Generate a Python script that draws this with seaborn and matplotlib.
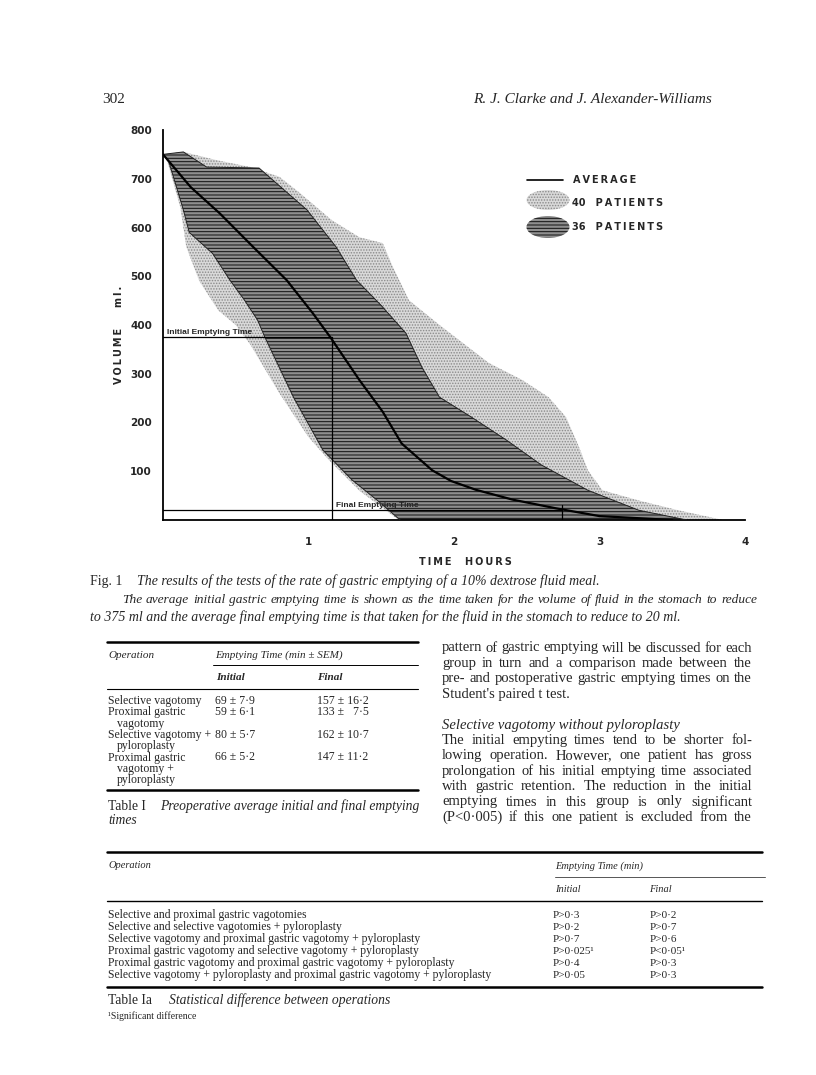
import numpy as np
import matplotlib
matplotlib.use('Agg')
import matplotlib.pyplot as plt
import seaborn as sns
from matplotlib.lines import Line2D
from matplotlib.patches import Ellipse

# ---- data (time in hours, volume in ml) ----
avg_t = [0, 0.19, 0.39, 0.62, 0.85, 1.03, 1.15, 1.35, 1.51, 1.64, 1.85, 1.98, 2.15, 2.4, 2.7, 3.0, 3.5]
avg_v = [750, 683, 629, 560, 492, 424, 375, 287, 222, 157, 102, 80, 62, 42, 24, 8, 0]

# 36 patients band (hatched)
hi36_t = [0, 0.14, 0.3, 0.66, 0.99, 1.19, 1.33, 1.5, 1.67, 1.78, 1.9, 2.12, 2.36, 2.6, 2.92, 3.27, 3.6]
hi36_v = [750, 755, 724, 722, 636, 560, 492, 440, 383, 313, 252, 211, 164, 113, 61, 20, 0]
lo36_t = [0, 0.04, 0.14, 0.18, 0.34, 0.46, 0.56, 0.65, 0.7, 0.9, 1.1, 1.3, 1.47, 1.63]
lo36_v = [750, 735, 636, 590, 547, 492, 451, 410, 375, 250, 143, 82, 41, 0]

# 40 patients band (stippled)
hi40_t = [0, 0.14, 0.37, 0.6, 0.8, 0.94, 1.16, 1.35, 1.51, 1.58, 1.69, 1.9, 2.24, 2.47, 2.65,
          2.77, 2.86, 2.92, 3.02, 3.27, 3.54, 3.85]
hi40_v = [750, 755, 738, 724, 704, 671, 615, 580, 568, 519, 451, 400, 322, 287, 252,
          211, 149, 102, 61, 40, 20, 0]
lo40_t = [0, 0.03, 0.12, 0.16, 0.25, 0.38, 0.5, 0.6, 0.8, 1.0, 1.14, 1.35, 1.62]
lo40_v = [750, 735, 640, 560, 490, 430, 400, 360, 260, 170, 123, 60, 0]

initial_time, initial_vol = 1.16, 375
final_time, final_vol = 2.74, 20

x_ticks = [1, 2, 3, 4]
y_ticks = [100, 200, 300, 400, 500, 600, 700, 800]

# ---- tables ----
t1_ops = ['Selective vagotomy', 'Proximal gastric', '  vagotomy', 'Selective vagotomy +',
          '  pyloroplasty', 'Proximal gastric', '  vagotomy +', '  pyloroplasty']
t1_initial = ['69 ± 7·9', '59 ± 6·1', '', '80 ± 5·7', '', '66 ± 5·2', '', '']
t1_final = ['157 ± 16·2', '133 ±   7·5', '', '162 ± 10·7', '', '147 ± 11·2', '', '']

t2_ops = ['Selective and proximal gastric vagotomies',
          'Selective and selective vagotomies + pyloroplasty',
          'Selective vagotomy and proximal gastric vagotomy + pyloroplasty',
          'Proximal gastric vagotomy and selective vagotomy + pyloroplasty',
          'Proximal gastric vagotomy and proximal gastric vagotomy + pyloroplasty',
          'Selective vagotomy + pyloroplasty and proximal gastric vagotomy + pyloroplasty']
t2_initial = ['P>0·3', 'P>0·2', 'P>0·7', 'P>0·025¹', 'P>0·4', 'P>0·05']
t2_final = ['P>0·2', 'P>0·7', 'P>0·6', 'P<0·05¹', 'P>0·3', 'P>0·3']

body_lines = [
    ('pattern of gastric emptying will be discussed for each', True, 'normal'),
    ('group in turn and a comparison made between the', True, 'normal'),
    ('pre- and postoperative gastric emptying times on the', True, 'normal'),
    ("Student's paired t test.", False, 'normal'),
    ('', False, 'normal'),
    ('Selective vagotomy without pyloroplasty', False, 'italic'),
    ('The initial empyting times tend to be shorter fol-', True, 'normal'),
    ('lowing operation. However, one patient has gross', True, 'normal'),
    ('prolongation of his initial emptying time associated', True, 'normal'),
    ('with gastric retention. The reduction in the initial', True, 'normal'),
    ('emptying times in this group is only significant', True, 'normal'),
    ('(P<0·005) if this one patient is excluded from the', True, 'normal'),
]

W, H = 816, 1075
sns.set_style('white')
plt.rcParams['font.family'] = ['DejaVu Sans']
plt.rcParams['hatch.linewidth'] = 0.7
SERIF = ['Liberation Serif', 'DejaVu Serif']
SANS = ['DejaVu Sans']

fig = plt.figure(figsize=(W / 100, H / 100), dpi=100)


def fx(x):
    return x / W


def fy(y):
    return 1 - y / H


def ftext(x, y, s, **kw):
    kw.setdefault('family', SERIF)
    kw.setdefault('va', 'center')
    return fig.text(fx(x), fy(y), s, **kw)


def hline(x0, x1, y, lw=0.8, color='black'):
    fig.add_artist(Line2D([fx(x0), fx(x1)], [fy(y), fy(y)], transform=fig.transFigure,
                          lw=lw, color=color))


renderer = fig.canvas.get_renderer()


def justified(x0, x1, y, line, size, style='normal'):
    words = line.split()
    texts = [ftext(0, y, w, fontsize=size, style=style) for w in words]
    widths = [t.get_window_extent(renderer).width for t in texts]
    gap = (x1 - x0 - sum(widths)) / max(len(words) - 1, 1)
    x = x0
    for t, w in zip(texts, widths):
        t.set_x(fx(x))
        x += w + gap


# ---- chart ----
ax = fig.add_axes([fx(163), fy(520), (745 - 163) / W, (520 - 130) / H])
ax.fill(np.concatenate([hi40_t, lo40_t[::-1]]), np.concatenate([hi40_v, lo40_v[::-1]]),
        facecolor='#d9d9d9', edgecolor='#8a8a8a', hatch='......', lw=0, zorder=1)
ax.fill(np.concatenate([hi36_t, lo36_t[::-1]]), np.concatenate([hi36_v, lo36_v[::-1]]),
        facecolor='#8f8f8f', edgecolor='#111111', hatch='-----', lw=0, zorder=2)
ax.plot(hi36_t, hi36_v, color='#222222', lw=0.7, zorder=3)
ax.plot(lo36_t, lo36_v, color='#222222', lw=0.7, zorder=3)
sns.lineplot(x=avg_t, y=avg_v, ax=ax, color='black', lw=1.6, zorder=5)

ax.plot([0, initial_time], [initial_vol, initial_vol], color='black', lw=0.9, zorder=6)
ax.plot([initial_time, initial_time], [0, initial_vol], color='black', lw=0.9, zorder=6)
ax.plot([0, final_time], [final_vol, final_vol], color='black', lw=0.9, zorder=6)
ax.plot([final_time, final_time], [0, final_vol + 10], color='black', lw=0.9, zorder=6)
ax.text(0.03, initial_vol + 2, 'Initial Emptying Time', family=['Liberation Sans'],
        weight='bold', fontsize=6, va='bottom', zorder=7)
ax.text(1.19, final_vol + 2, 'Final Emptying Time', family=['Liberation Sans'],
        weight='bold', fontsize=6, va='bottom', zorder=7)

ax.set_xlim(0, 4)
ax.set_ylim(0, 800)
ax.set_xticks(x_ticks)
ax.set_yticks(y_ticks)
ax.set_xticklabels([str(v) for v in x_ticks], fontsize=7.5, weight='bold')
ax.set_yticklabels([str(v) for v in y_ticks], fontsize=7.5, weight='bold')
ax.tick_params(axis='both', direction='out', length=3, width=1, color='black')
ax.tick_params(axis='x', pad=9)
ax.tick_params(axis='y', pad=5)
sns.despine(ax=ax)
for s in ['left', 'bottom']:
    ax.spines[s].set_linewidth(1.3)
    ax.spines[s].set_color('black')
ax.set_facecolor('none')

th = '\u2009'
ftext(119, 356, th.join('VOLUME'), family=SANS, weight='bold', fontsize=7, rotation=90, ha='center')
ftext(119, 296, th.join('ml.'), family=SANS, weight='bold', fontsize=7, rotation=90, ha='center')
ftext(465, 562, th.join('TIME') + '    ' + th.join('HOURS'), family=SANS, weight='bold',
      fontsize=7, ha='center')

# legend
hline(527, 563, 180, lw=1.2)
ftext(573, 180, th.join('AVERAGE'), family=SANS, weight='bold', fontsize=7)
fig.add_artist(Ellipse((fx(548), fy(200)), 43 / W, 20 / H, transform=fig.transFigure,
                       facecolor='#d9d9d9', edgecolor='#8a8a8a', hatch='......', lw=0))
ftext(572, 203, '40' + '   ' + th.join('PATIENTS'), family=SANS, weight='bold', fontsize=7)
fig.add_artist(Ellipse((fx(548), fy(227)), 43 / W, 22 / H, transform=fig.transFigure,
                       facecolor='#8f8f8f', edgecolor='#111111', hatch='-----', lw=0))
ftext(572, 227, '36' + '   ' + th.join('PATIENTS'), family=SANS, weight='bold', fontsize=7)

# ---- page header ----
ftext(102, 100, '302', fontsize=11)
ftext(712, 100, 'R. J. Clarke and J. Alexander-Williams', fontsize=11, style='italic', ha='right')

# ---- figure caption ----
ftext(90, 581, 'Fig. 1', fontsize=10)
ftext(137, 581, 'The results of the tests of the rate of gastric emptying of a 10% dextrose fluid meal.',
      fontsize=10, style='italic')
justified(122, 757, 600, 'The average initial gastric emptying time is shown as the time taken for the '
          'volume of fluid in the stomach to reduce', 9.6, 'italic')
ftext(90, 617, 'to 375 ml and the average final emptying time is that taken for the fluid in the '
      'stomach to reduce to 20 ml.', fontsize=10, style='italic')

# ---- Table I ----
hline(107, 418, 642, lw=1.8)
ftext(108, 655, 'Operation', fontsize=8, style='italic')
ftext(215, 655, 'Emptying Time (min ± SEM)', fontsize=8, style='italic')
hline(213, 418, 665, lw=0.7)
ftext(216, 677, 'Initial', fontsize=8, style='italic', weight='bold')
ftext(317, 677, 'Final', fontsize=8, style='italic', weight='bold')
hline(107, 418, 689, lw=0.8)
for i, (op, a, b) in enumerate(zip(t1_ops, t1_initial, t1_final)):
    y = 701 + 11.3 * i
    ftext(108 + (9 if op.startswith('  ') else 0), y, op.strip(), fontsize=8.5)
    ftext(215, y, a, fontsize=8.5)
    ftext(317, y, b, fontsize=8.5)
hline(107, 418, 790, lw=1.8)
ftext(108, 806, 'Table I', fontsize=9.8)
ftext(160, 806, 'Preoperative average initial and final emptying', fontsize=9.8, style='italic')
ftext(108, 821, 'times', fontsize=9.8, style='italic')

# ---- body text ----
for i, (line, just, style) in enumerate(body_lines):
    y = 648 + 15.4 * i
    if not line:
        continue
    if just:
        justified(442, 752, y, line, 10.5, style)
    else:
        ftext(442, y, line, fontsize=10.5, style=style)

# ---- Table Ia ----
hline(107, 762, 852, lw=1.8)
ftext(108, 866, 'Operation', fontsize=7.5, style='italic')
ftext(555, 866, 'Emptying Time (min)', fontsize=7.5, style='italic')
hline(555, 765, 877, lw=0.7, color='#555555')
ftext(555, 889, 'Initial', fontsize=7.5, style='italic')
ftext(649, 889, 'Final', fontsize=7.5, style='italic')
hline(107, 762, 901, lw=1.0)
for i, (op, a, b) in enumerate(zip(t2_ops, t2_initial, t2_final)):
    y = 915 + 12 * i
    ftext(108, y, op, fontsize=8.4)
    ftext(553, y, a, fontsize=8)
    ftext(650, y, b, fontsize=8)
hline(107, 762, 987, lw=1.8)
ftext(108, 1000, 'Table Ia', fontsize=9.8)
ftext(169, 1000, 'Statistical difference between operations', fontsize=9.8, style='italic')
ftext(108, 1016, '¹Significant difference', fontsize=7)

fig.savefig('out.png', dpi=100, facecolor='white')
